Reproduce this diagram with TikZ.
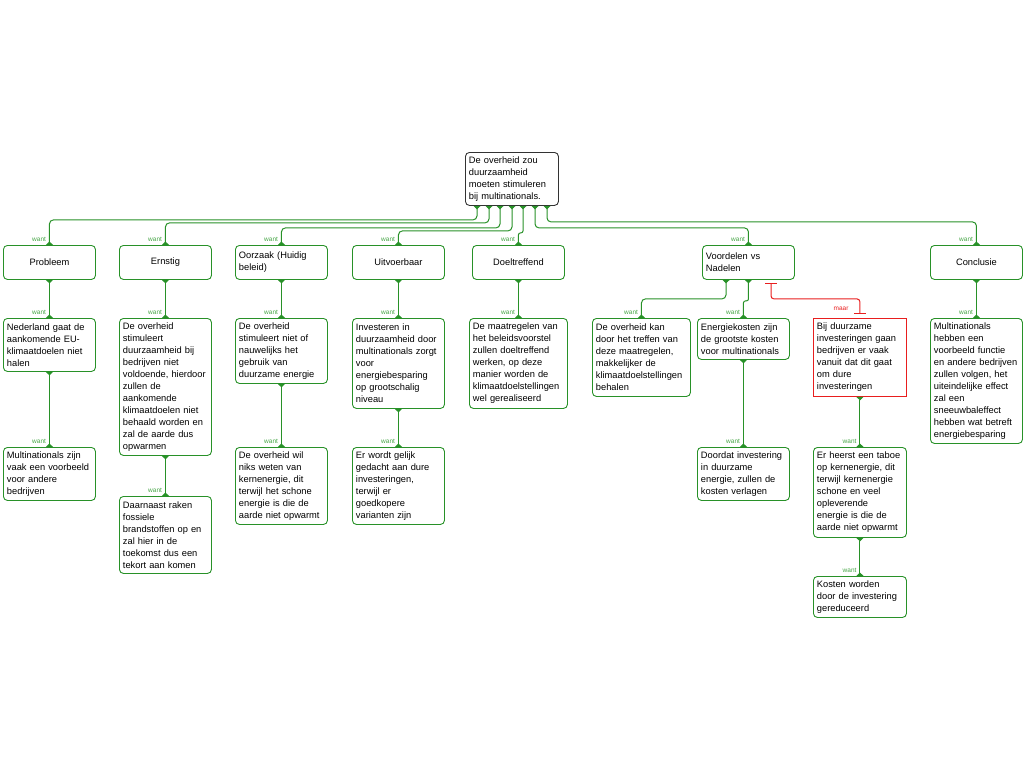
\documentclass[tikz,border=0pt]{standalone}
\usepackage{fontspec}
\setmainfont{Liberation Sans}
\usetikzlibrary{arrows.meta,calc}
\usepackage{xcolor}

\definecolor{argGreen}{RGB}{40,145,40}
\definecolor{argGreenL}{RGB}{70,165,70}
\definecolor{argRed}{RGB}{232,30,30}
\hyphenpenalty=10000

\begin{document}
\begin{tikzpicture}[x=1pt, y=-1pt,
  box/.style={draw=argGreen, line width=0.9pt, rounded corners=4pt, fill=white,
    anchor=north west, inner xsep=3.5pt, inner ysep=2pt, text width=85pt,
    minimum height=#1, align=left, font=\fontsize{9.3}{12}\selectfont},
  box/.default=34pt,
  head/.style={box, align=center},
  wide/.style={text width=91pt},
  link/.style={draw=argGreen, line width=1pt, rounded corners=4pt,
    {Triangle[reversed,width=7pt,length=3.5pt]}-{Triangle[reversed,width=7pt,length=3.5pt]}},
  conflict/.style={draw=argRed, line width=1pt, rounded corners=3pt,
    {Bar[width=12pt]}-{Bar[width=12pt]}, shorten <=3pt, shorten >=4pt},
  wantlbl/.style={font=\fontsize{6.5}{7}\selectfont, text=argGreenL, anchor=south east,
    inner sep=0pt, xshift=-3pt, yshift=3pt},
  maarlbl/.style={wantlbl, text=argRed, xshift=-8pt, yshift=4pt}]

  \useasboundingbox (0,0) rectangle (1024,768);

  % Main claim
  \node[box=53pt, draw=black!80, text width=86pt] (root) at (465,152)
    {De overheid zou\\ duurzaamheid\\ moeten stimuleren\\ bij multinationals.};

  % First row
  \node[head] (probleem) at (3,245) {Probleem};
  \node[head] (ernstig) at (119,245) {Ernstig};
  \node[box] (oorzaak) at (235,245) {Oorzaak (Huidig\\ beleid)};
  \node[head] (uitvoerbaar) at (352,245) {Uitvoerbaar};
  \node[head] (doeltreffend) at (472,245) {Doeltreffend};
  \node[box] (voordelen) at (702,245) {Voordelen vs\\ Nadelen};
  \node[head] (conclusie) at (930,245) {Conclusie};

  % Second row
  \node[box=53pt] (nederland) at (3,318)
    {Nederland gaat de\\ aankomende EU-\\ klimaatdoelen niet\\ halen};
  \node[box=137pt] (stimuleert) at (119,318)
    {De overheid\\ stimuleert\\ duurzaamheid bij\\ bedrijven niet\\ voldoende, hierdoor\\ zullen de\\ aankomende\\ klimaatdoelen niet\\ behaald worden en\\ zal de aarde dus\\ opwarmen};
  \node[box=65pt] (nauwelijks) at (235,318)
    {De overheid\\ stimuleert niet of\\ nauwelijks het\\ gebruik van\\ duurzame energie};
  \node[box=90pt] (investeren) at (352,318)
    {Investeren in\\ duurzaamheid door\\ multinationals zorgt\\ voor\\ energiebesparing\\ op grootschalig\\ niveau};
  \node[box=90pt, wide] (maatregelen) at (469,318)
    {De maatregelen van\\ het beleidsvoorstel\\ zullen doeltreffend\\ werken, op deze\\ manier worden de\\ klimaatdoelstellingen\\ wel gerealiseerd};
  \node[box=78pt, wide] (treffen) at (592,318)
    {De overheid kan\\ door het treffen van\\ deze maatregelen,\\ makkelijker de\\ klimaatdoelstellingen\\ behalen};
  \node[box=41pt] (energiekosten) at (697,318)
    {Energiekosten zijn\\ de grootste kosten\\ voor multinationals};
  \node[box=78pt, draw=argRed, rounded corners=0pt, text width=86pt] (dure) at (813,318)
    {Bij duurzame\\ investeringen gaan\\ bedrijven er vaak\\ vanuit dat dit gaat\\ om dure\\ investeringen};
  \node[box=125pt] (voorbeeld) at (930,318)
    {Multinationals\\ hebben een\\ voorbeeld functie\\ en andere bedrijven\\ zullen volgen, het\\ uiteindelijke effect\\ zal een\\ sneeuwbaleffect\\ hebben wat betreft\\ energiebesparing};

  % Third row
  \node[box=53pt] (multinationals) at (3,447)
    {Multinationals zijn\\ vaak een voorbeeld\\ voor andere\\ bedrijven};
  \node[box=77pt] (fossiel) at (119,496)
    {Daarnaast raken\\ fossiele\\ brandstoffen op en\\ zal hier in de\\ toekomst dus een\\ tekort aan komen};
  \node[box=77pt] (kernenergie) at (235,447)
    {De overheid wil\\ niks weten van\\ kernenergie, dit\\ terwijl het schone\\ energie is die de\\ aarde niet opwarmt};
  \node[box=77pt] (gelijk) at (352,447)
    {Er wordt gelijk\\ gedacht aan dure\\ investeringen,\\ terwijl er\\ goedkopere\\ varianten zijn};
  \node[box=53pt] (verlagen) at (697,447)
    {Doordat investering\\ in duurzame\\ energie, zullen de\\ kosten verlagen};
  \node[box=90pt, text width=86pt] (taboe) at (813,447)
    {Er heerst een taboe\\ op kernenergie, dit\\ terwijl kernenergie\\ schone en veel\\ opleverende\\ energie is die de\\ aarde niet opwarmt};
  \node[box=41pt, text width=86pt] (gereduceerd) at (813,576)
    {Kosten worden\\ door de investering\\ gereduceerd};

  % Links from the main claim
  \draw[link] ($(root.south west)+(12,0)$) -- ++(0,14) -| (probleem.north) node[wantlbl] (w1) {want};
  \draw[link] ($(root.south west)+(24,0)$) -- ++(0,17) -| (ernstig.north) node[wantlbl] (w2) {want};
  \draw[link] ($(root.south west)+(35,0)$) -- ++(0,22) -| (oorzaak.north) node[wantlbl] (w3) {want};
  \draw[link] ($(root.south west)+(47,0)$) -- ++(0,25) -| (uitvoerbaar.north) node[wantlbl] (w4) {want};
  \draw[link, rounded corners=2pt] ($(root.south west)+(58,0)$) -- ++(0,27) -| (doeltreffend.north) node[wantlbl] (w5) {want};
  \draw[link] ($(root.south west)+(70,0)$) -- ++(0,22) -| (voordelen.north) node[wantlbl] (w6) {want};
  \draw[link] ($(root.south west)+(82,0)$) -- ++(0,16) -| (conclusie.north) node[wantlbl] (w7) {want};

  % Links to the second row
  \draw[link] (probleem.south) -- (nederland.north) node[wantlbl] (w8) {want};
  \draw[link] (ernstig.south) -- (stimuleert.north) node[wantlbl] (w9) {want};
  \draw[link] (oorzaak.south) -- (nauwelijks.north) node[wantlbl] (w10) {want};
  \draw[link] (uitvoerbaar.south) -- (investeren.north) node[wantlbl] (w11) {want};
  \draw[link] (doeltreffend.south) -- (maatregelen.north) node[wantlbl] (w12) {want};
  \draw[link] ($(voordelen.south west)+(24,0)$) -- ++(0,19) -| (treffen.north) node[wantlbl] (w13) {want};
  \draw[link, rounded corners=2pt] (voordelen.south) -- ++(0,21) -| (energiekosten.north) node[wantlbl] (w14) {want};
  \draw[conflict] ($(voordelen.south west)+(69,0)$) -- ++(0,19) -| (dure.north) node[maarlbl] (m1) {maar};
  \draw[link] (conclusie.south) -- (voorbeeld.north) node[wantlbl] (w15) {want};

  % Links to the third row
  \draw[link] (nederland.south) -- (multinationals.north) node[wantlbl] (w16) {want};
  \draw[link] (stimuleert.south) -- (fossiel.north) node[wantlbl] (w17) {want};
  \draw[link] (nauwelijks.south) -- (kernenergie.north) node[wantlbl] (w18) {want};
  \draw[link] (investeren.south) -- (gelijk.north) node[wantlbl] (w19) {want};
  \draw[link] (energiekosten.south) -- (verlagen.north) node[wantlbl] (w20) {want};
  \draw[link] (dure.south) -- (taboe.north) node[wantlbl] (w21) {want};
  \draw[link] (taboe.south) -- (gereduceerd.north) node[wantlbl] (w22) {want};
\end{tikzpicture}
\end{document}
